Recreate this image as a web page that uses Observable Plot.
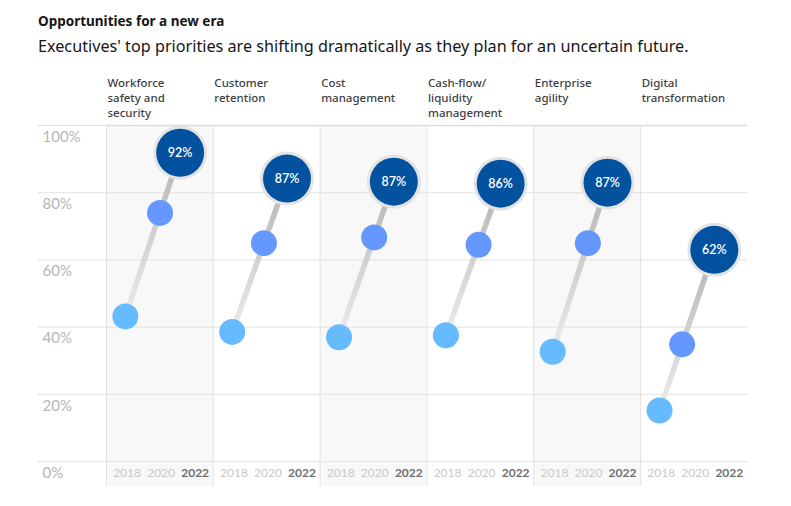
<!DOCTYPE html>
<html>
<head>
<meta charset="utf-8">
<script src="https://cdn.jsdelivr.net/npm/d3@7"></script>
<script src="https://cdn.jsdelivr.net/npm/@observablehq/plot@0.6"></script>
<style>
  html, body { margin: 0; padding: 0; background: #ffffff; }
  body { width: 791px; height: 506px; position: relative; overflow: hidden; }
  #title { position: absolute; left: 38px; top: 12px; font-family: "Noto Sans", sans-serif; font-weight: 700; font-size: 13.5px; line-height: 18px; color: #161616; white-space: nowrap; }
  #subtitle { position: absolute; left: 38px; top: 35px; font-family: "Noto Sans", sans-serif; font-weight: 400; font-size: 16.2px; line-height: 22px; color: #161616; white-space: nowrap; }
  #chart { position: absolute; left: 0; top: 60px; }
</style>
</head>
<body>
<div id="title">Opportunities for a new era</div>
<div id="subtitle">Executives' top priorities are shifting dramatically as they plan for an uncertain future.</div>
<div id="chart"></div>
<script>
// ---- data ----
const categories = [
  "Workforce safety and security",
  "Customer retention",
  "Cost management",
  "Cash-flow/liquidity management",
  "Enterprise agility",
  "Digital transformation"
];
const headerLabels = [
  "Workforce\nsafety and\nsecurity",
  "Customer\nretention",
  "Cost\nmanagement",
  "Cash-flow/\nliquidity\nmanagement",
  "Enterprise\nagility",
  "Digital\ntransformation"
];
const shadedCategories = [categories[0], categories[2], categories[4]];
const years = [2018, 2020, 2022];
const values2018 = [43.2, 38.6, 37.0, 37.6, 32.7, 15.2];
const values2020 = [74.0, 65.0, 66.7, 64.5, 65.0, 34.9];
const values2022 = [91.9, 84.2, 83.3, 82.7, 83.0, 63.0];
const labels2022 = ["92%", "87%", "87%", "86%", "87%", "62%"];
const yTicks = [0, 20, 40, 60, 80, 100];

// ---- layout in data units ----
const xDomain = [2016.79, 2023.07];
const yDomain = [-7.4, 100];
const startYear = 2017.9;    // where the 2018 dot sits
const endYear = 2021.12;     // where the 2022 bubble sits

const rows = categories.map((cat, i) => {
  const v18 = values2018[i], v20 = values2020[i], v22 = values2022[i];
  const t = (v20 - v18) / (v22 - v18);
  return {
    cat, header: headerLabels[i], label: labels2022[i],
    v18, v20, v22,
    x18: startYear,
    x20: startYear + t * (endYear - startYear),
    x22: endYear
  };
});

const grid = "#e2e2e2";

const chart = Plot.plot({
  width: 791,
  height: 431,
  marginLeft: 106,
  marginRight: 44,
  marginTop: 65,
  marginBottom: 5,
  style: { fontFamily: "Lato, sans-serif", background: "transparent" },
  fx: { domain: categories, padding: 0, round: false, axis: null },
  x: { domain: xDomain, axis: null },
  y: { domain: yDomain },
  marks: [
    // alternating column shading
    Plot.rect(shadedCategories, {
      fx: d => d, x1: xDomain[0], x2: xDomain[1], y1: yDomain[0], y2: yDomain[1],
      fill: "#f8f8f8"
    }),
    // horizontal gridlines inside the facets
    Plot.ruleY(yTicks, { y: d => d, stroke: grid, strokeWidth: 1 }),
    Plot.ruleY([100], { y: d => d, stroke: "#dcdcdc", strokeWidth: 1.6 }),
    // vertical column separators
    Plot.ruleX(categories, {
      fx: d => d, x: xDomain[0], y1: yDomain[0], y2: yDomain[1], stroke: grid
    }),
    // y axis: gridline extension to the left
    Plot.axisY(yTicks, {
      anchor: "left", tickSize: 68, stroke: grid, fill: "none"
    }),
    // y axis labels below the lines
    Plot.axisY(yTicks, {
      anchor: "left", tickSize: 68, tickPadding: -4, textAnchor: "start",
      dy: 11.5, stroke: "none", fill: "#b6b6b6", fontSize: 15,
      tickFormat: d => d + "%"
    }),
    // year labels
    Plot.text(years.slice(0, 2), {
      x: d => d, frameAnchor: "bottom", dy: -13.5, text: d => String(d),
      fill: "#c8c8c8", fontSize: 12, lineAnchor: "middle"
    }),
    Plot.text(years.slice(2), {
      x: d => d, frameAnchor: "bottom", dy: -13.5, text: d => String(d),
      fill: "#6f6f6f", fontSize: 12, fontWeight: "bold", lineAnchor: "middle"
    }),
    // facet headers
    Plot.text(rows, {
      fx: "cat", text: "header", frameAnchor: "top-left", textAnchor: "start",
      lineAnchor: "top", dx: 1, dy: -49, fontSize: 11.5, lineHeight: 1.3,
      fill: "#3f3f3f", fontWeight: 500, fontFamily: "'Noto Sans', sans-serif"
    }),
    // connecting line
    Plot.link(rows, {
      fx: "cat", x1: "x18", y1: "v18", x2: "x22", y2: "v22",
      stroke: "url(#lineGrad)", strokeWidth: 5.5
    }),
    // 2018 dots
    Plot.dot(rows, { fx: "cat", x: "x18", y: "v18", r: 13, fill: "#66baff" }),
    // 2020 dots
    Plot.dot(rows, { fx: "cat", x: "x20", y: "v20", r: 13, fill: "#6598fe" }),
    // 2022 bubbles
    Plot.dot(rows, { fx: "cat", x: "x22", y: "v22", r: 27, fill: "#e3e3e3" }),
    Plot.dot(rows, { fx: "cat", x: "x22", y: "v22", r: 24, fill: "#03529f" }),
    Plot.text(rows, {
      fx: "cat", x: "x22", y: "v22", text: "label", fill: "white",
      fontSize: 12.5, fontWeight: 600
    })
  ]
});

const defs = document.createElementNS("http://www.w3.org/2000/svg", "defs");
defs.innerHTML = '<linearGradient id="lineGrad" x1="0" y1="1" x2="0" y2="0">' +
  '<stop offset="0" stop-color="#ececec"/><stop offset="1" stop-color="#b4b4b4"/></linearGradient>';
chart.insertBefore(defs, chart.firstChild);

document.getElementById("chart").appendChild(chart);
</script>
</body>
</html>
